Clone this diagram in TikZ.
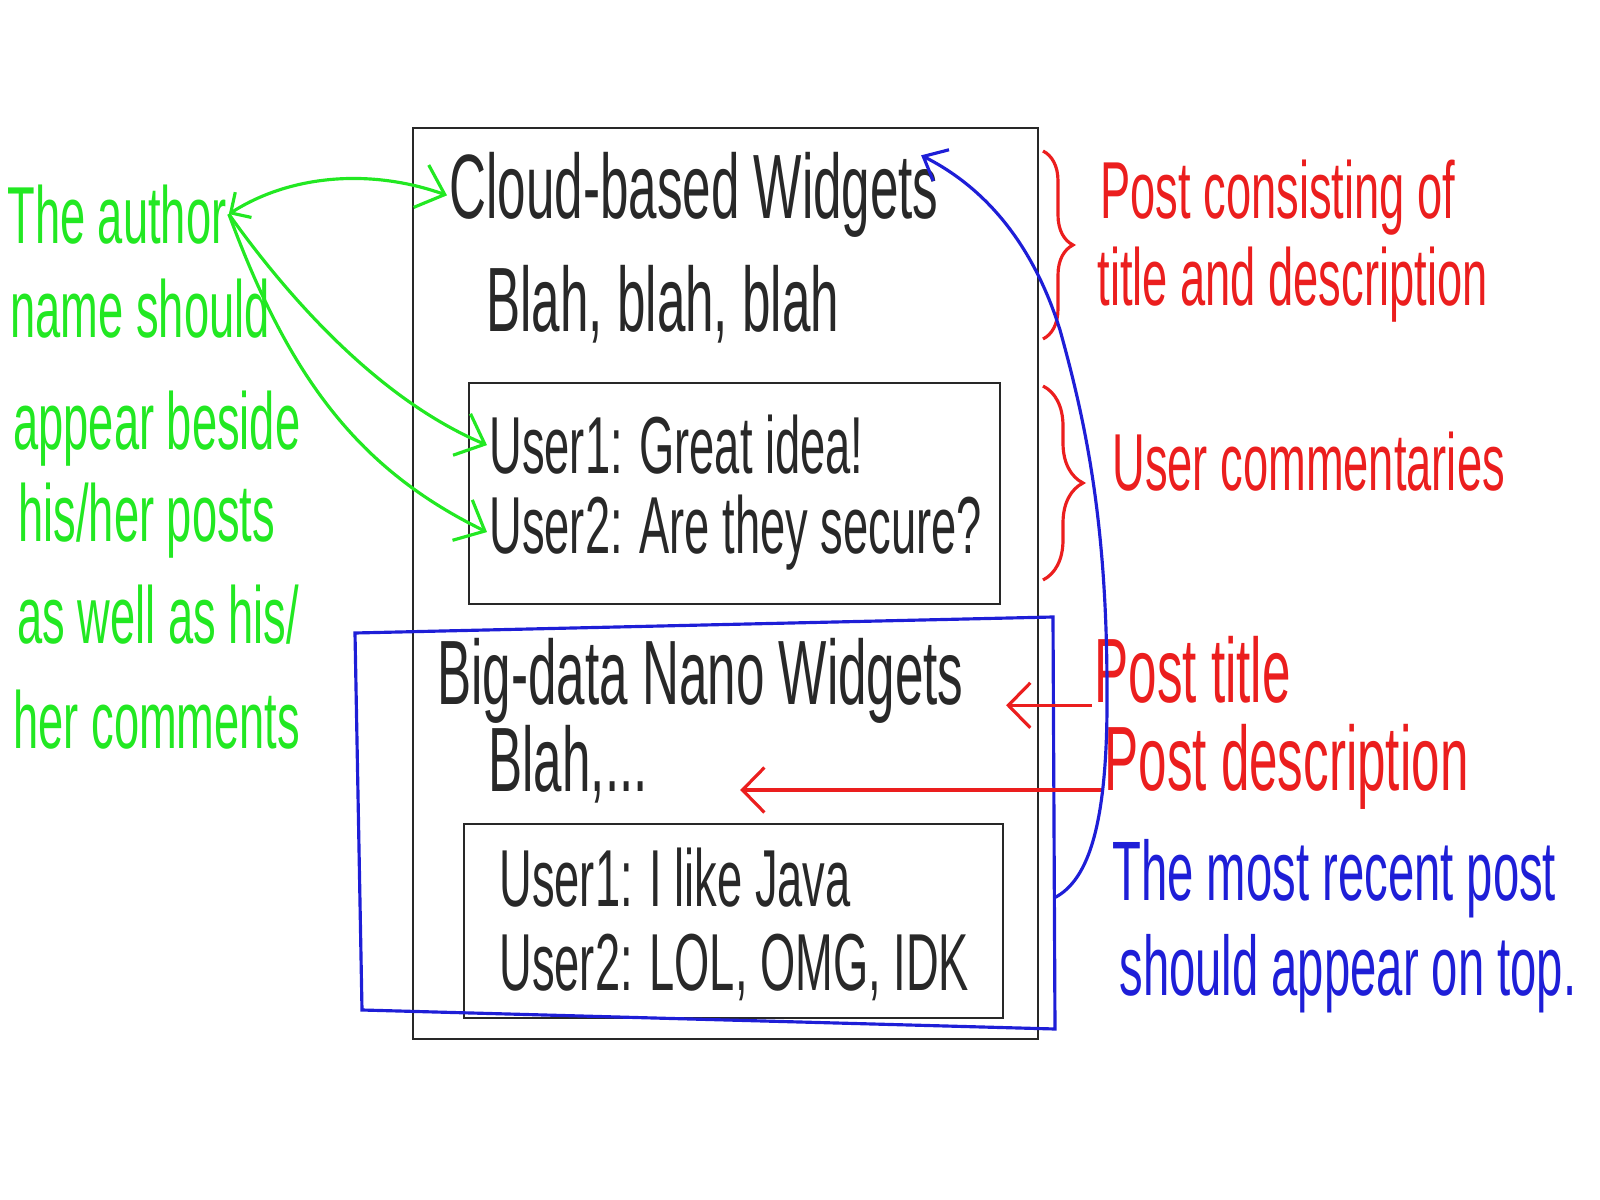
\documentclass[tikz,border=0pt]{standalone}
\usepackage{fontspec}
\usepackage{xcolor}
\usetikzlibrary{arrows.meta, positioning, calc, decorations.pathreplacing}
\newfontfamily\handfont[FakeStretch=0.56]{Liberation Sans}
\definecolor{penblack}{RGB}{40,40,40}
\definecolor{pengreen}{RGB}{34,232,34}
\definecolor{penred}{RGB}{235,30,30}
\definecolor{penblue}{RGB}{30,30,215}

\begin{document}
\begin{tikzpicture}[
    x=0.1mm, y=-0.1mm,
    every node/.style={inner sep=0.5pt, anchor=base west},
    postline/.style={text=penblack, font=\handfont\fontsize{26}{30}\selectfont},
    commentline/.style={text=penblack, font=\handfont\fontsize{23}{26}\selectfont},
    note/.style={text=pengreen, font=\handfont\fontsize{23}{26}\selectfont},
    remark/.style={text=penred, font=\handfont\fontsize{23}{26}\selectfont},
    bigremark/.style={text=penred, font=\handfont\fontsize{26}{29}\selectfont},
    hint/.style={text=penblue, font=\handfont\fontsize{24}{27}\selectfont},
    sketch/.style={draw=penblack, line width=0.8pt},
    bluebox/.style={draw=penblue, line width=0.9pt},
    redbrace/.style={draw=penred, line width=0.9pt, decorate},
    greenarrow/.style={draw=pengreen, line width=0.9pt, -{Straight Barb[length=2.5mm,width=4.5mm]}},
    redarrow/.style={draw=penred, line width=0.9pt, -{Straight Barb[length=2.2mm,width=4.5mm]}},
    bluearrow/.style={draw=penblue, line width=0.9pt, -{Straight Barb[length=2mm,width=3.5mm]}}
]
\useasboundingbox (0,0) rectangle (1600,1200);

\draw[sketch] (413,128) rectangle (1038,1039);
\draw[sketch] (469,383) rectangle (1000,604);
\draw[sketch] (464,824) rectangle (1003,1018);
\draw[bluebox] (355,633) -- (1053,617) -- (1055,1029) -- (362,1010) -- cycle;
\coordinate (recent) at (1054,898);

\node[postline] (title1) at (447,219) {Cloud-based Widgets};
\node[postline] (desc1) at (484,332) {Blah, blah, blah};
\node[commentline] (c1a) at (487,474) {User1: Great idea!};
\node[commentline] (c1b) at (487,553) {User2: Are they secure?};
\node[postline] (title2) at (435,704) {Big-data Nano Widgets};
\node[postline] (desc2) at (486,791) {Blah,...};
\node[commentline] (c2a) at (497,906) {User1: I like Java};
\node[commentline] (c2b) at (497,990) {User2: LOL, OMG, IDK};

\node[note] (author) at (5,243) {The author};
\node[note] (n2) at (8,337) {name should};
\node[note] (n3) at (11,449) {appear beside};
\node[note] (n4) at (16,541) {his/her posts};
\node[note] (n5) at (15,643) {as well as his/};
\node[note] (n6) at (11,748) {her comments};

\node[remark] (postinfo) at (1098,219) {Post consisting of};
\node[remark] (postinfo2) at (1095,306) {title and description};
\node[remark] (comments) at (1110,490) {User commentaries};
\node[bigremark] (ptitle) at (1092,702) {Post title};
\node[bigremark] (pdesc) at (1102,790) {Post description};
\node[hint] (top1) at (1110,900) {The most recent post};
\node[hint] (top2) at (1117,995) {should appear on top.};

\draw[redbrace, decoration={brace, amplitude=3mm}] (1043,151) -- (1043,339);
\draw[redbrace, decoration={brace, amplitude=4mm}] (1043,386) -- (1043,580);

\draw[greenarrow, {Straight Barb[length=1.5mm,width=3mm]}-{Straight Barb[length=2.5mm,width=4.5mm]}] (author.east) .. controls (290,175) and (370,168) .. (title1.west);
\draw[greenarrow] (author.east) .. controls (290,300) and (380,400) .. (c1a.west);
\draw[greenarrow] (author.east) .. controls (290,380) and (360,470) .. (c1b.west);

\draw[redarrow, shorten >=4mm] (ptitle.south west) -- (ptitle.south west -| title2.east);
\draw[redarrow, shorten >=9mm] (pdesc.base west) -- (pdesc.base west -| desc2.east);

\draw[bluearrow] (recent) .. controls (1090,880) and (1108,820) .. (1107,690) .. controls (1107,520) and (1085,420) .. (1060,330) .. controls (1035,250) and (990,190) .. ([xshift=-2mm,yshift=-0.5mm]title1.north east);
\end{tikzpicture}
\end{document}
